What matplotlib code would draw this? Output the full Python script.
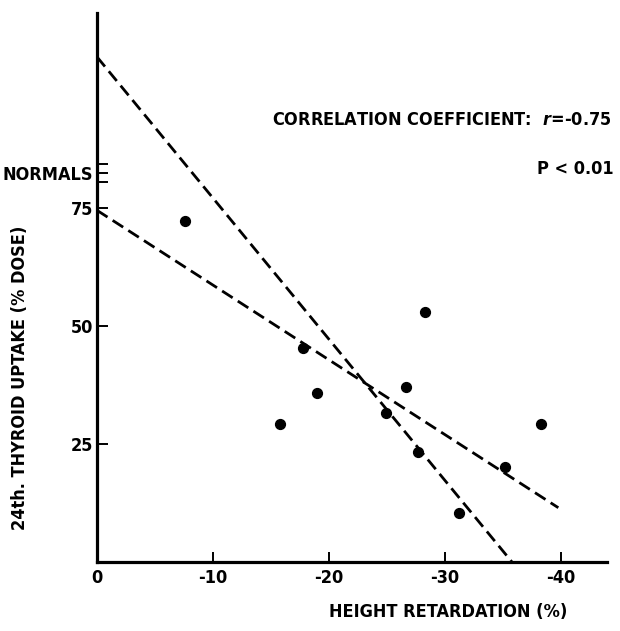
import matplotlib
matplotlib.use("Agg")
import matplotlib.pyplot as plt

# ---- data ----
height_retardation = [-7.6, -15.8, -17.8, -19.0, -24.9, -26.7, -27.7, -28.3, -31.2, -35.2, -38.3]
thyroid_uptake     = [72.3, 29.2, 45.3, 35.9, 31.6, 37.1, 23.2, 52.9, 10.4, 20.1, 29.2]

# regression line endpoints (x, y)
line_shallow_x = [0.0, -39.8]
line_shallow_y = [74.5, 11.5]
line_steep_x = [0.0, -35.8]
line_steep_y = [107.0, 0.0]

y_ticks = [25, 50, 75, 80.5, 82.4, 84.3]
y_tick_labels = ["25", "50", "75", "", "NORMALS", ""]
x_ticks = [0, -10, -20, -30, -40]
x_tick_labels = ["0", "-10", "-20", "-30", "-40"]

# ---- fonts ----
plt.rcParams["font.family"] = ["DejaVu Sans"]
plt.rcParams["font.weight"] = "bold"
plt.rcParams["font.stretch"] = "condensed"
plt.rcParams["axes.unicode_minus"] = False
FS = 13
TXT = dict(fontsize=FS, fontweight="bold", fontstretch="condensed")

fig = plt.figure(figsize=(6.2, 6.31), dpi=100)
W, H = 620, 631
x0_px, y0_px = 97, 562
x_right_px, y_top_px = 607, 13
ax = fig.add_axes([x0_px / W, (H - y0_px) / H, (x_right_px - x0_px) / W, (y0_px - y_top_px) / H])

ax.plot(line_shallow_x, line_shallow_y, color="black", lw=2.0, dashes=(4.5, 2.2), clip_on=False)
ax.plot(line_steep_x, line_steep_y, color="black", lw=2.0, dashes=(4.5, 2.2), clip_on=False)
ax.scatter(height_retardation, thyroid_uptake, s=50, color="black", zorder=3, clip_on=False)

ax.set_xlim(0, -44)
ax.set_ylim(0, 116.3)

for s in ("top", "right"):
    ax.spines[s].set_visible(False)
for s in ("left", "bottom"):
    ax.spines[s].set_linewidth(2.3)
    ax.spines[s].set_color("black")

ax.set_xticks(x_ticks)
ax.set_xticklabels(x_tick_labels)
ax.set_yticks(y_ticks)
ax.set_yticklabels(y_tick_labels)
ax.tick_params(axis="x", direction="in", length=7, width=1.4, labelsize=FS, pad=5)
ax.tick_params(axis="y", direction="in", length=8, width=1.4, labelsize=FS, pad=3)
for lab in ax.get_xticklabels() + ax.get_yticklabels():
    lab.set_fontweight("bold")
    lab.set_fontstretch("condensed")

ax.set_xlabel("HEIGHT RETARDATION (%)", **TXT)
ax.xaxis.label.set_va("center")
ax.xaxis.set_label_coords((448 - x0_px) / (x_right_px - x0_px), -(612 - y0_px) / (y0_px - y_top_px))
ax.set_ylabel("24th. THYROID UPTAKE (% DOSE)", **TXT)
ax.yaxis.label.set_va("center")
ax.yaxis.set_label_coords(-(97 - 20) / (x_right_px - x0_px), (y0_px - 378) / (y0_px - y_top_px))

fig.text(612 / W, 1 - 120 / H, r"CORRELATION COEFFICIENT:  $\mathit{r}$=-0.75", ha="right", va="center", **TXT)
fig.text(614 / W, 1 - 169 / H, "P < 0.01", ha="right", va="center", **TXT)

fig.savefig("out.png", dpi=100)
